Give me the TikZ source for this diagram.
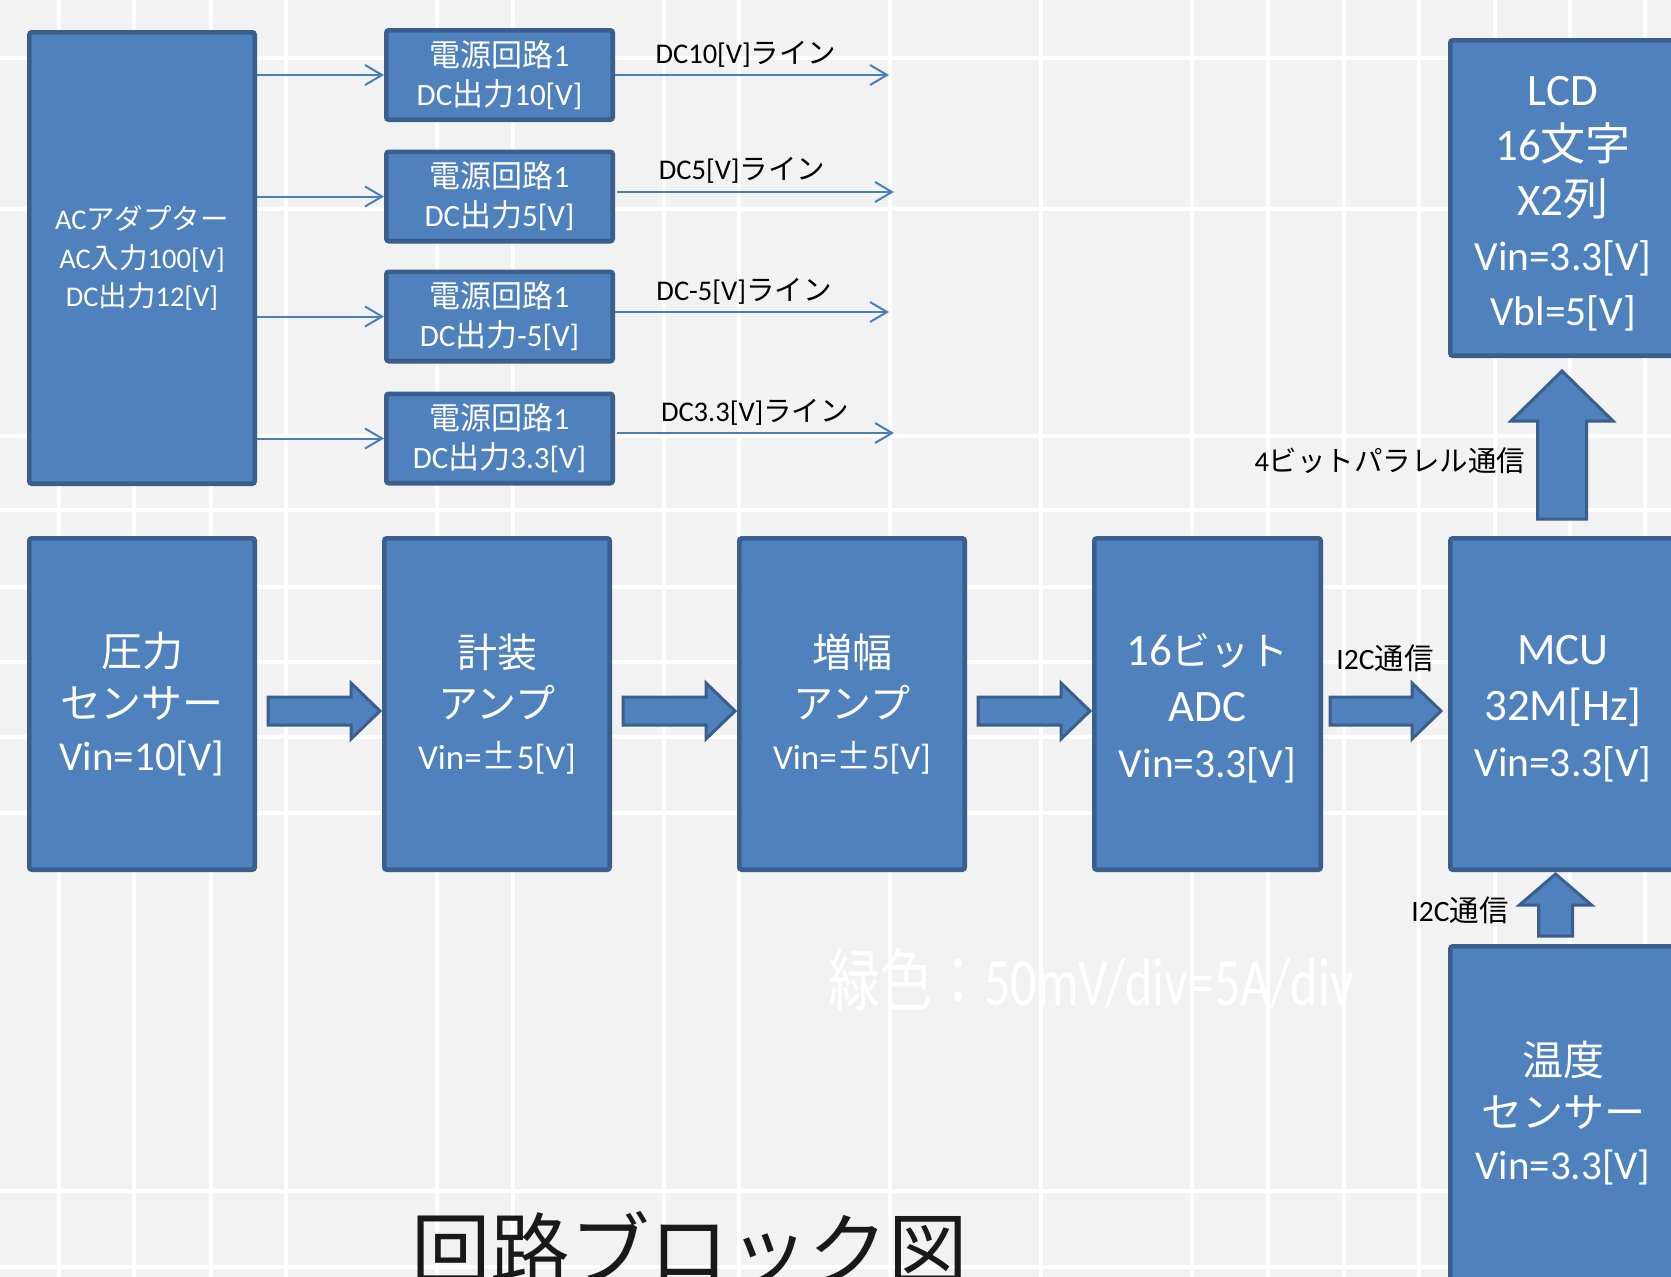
\documentclass[tikz,border=0pt]{standalone}
\usepackage{fontspec}
\setmainfont{Carlito}
\newfontfamily\jp{Noto Sans CJK JP}
\usetikzlibrary{arrows.meta,calc}
\definecolor{bg}{HTML}{F2F2F2}
\definecolor{boxfill}{HTML}{4F81BD}
\definecolor{boxline}{HTML}{3A5F8C}
\definecolor{thinc}{HTML}{4A7EBB}
\newcommand\J[1]{{\jp #1}}
\newcommand\fs[2]{\fontsize{#1}{#2}\selectfont}
% horizontal block arrow: from node, to node, start gap, end gap
\newcommand\harr[4]{%
 \draw[barr] let \p1=(#1.east), \p2=(#2.west) in
  (\x1+#3pt,\y1+7pt) -- (\x2-#4pt-29pt,\y1+7pt) -- (\x2-#4pt-29pt,\y1+21pt) --
  (\x2-#4pt,\y1-7pt) -- (\x2-#4pt-29pt,\y1-35pt) -- (\x2-#4pt-29pt,\y1-21pt) --
  (\x1+#3pt,\y1-21pt) -- cycle;}
% vertical block arrow: lower node, upper node, gap bottom, gap top, shaft half, head half, head length, x offset
\newcommand\varr[8]{%
 \draw[barr] let \p1=(#1.north), \p2=(#2.south) in
  (\x1#8-#5pt,\y1+#3pt) -- (\x1#8-#5pt,\y2-#4pt-#7pt) -- (\x1#8-#6pt,\y2-#4pt-#7pt) --
  (\x1#8,\y2-#4pt) -- (\x1#8+#6pt,\y2-#4pt-#7pt) -- (\x1#8+#5pt,\y2-#4pt-#7pt) --
  (\x1#8+#5pt,\y1+#3pt) -- cycle;}
\begin{document}
\begin{tikzpicture}[x=1pt,y=-1pt,
  gridline/.style={white,line width=3.5pt},
  blk/.style={rectangle,fill=boxfill,draw=boxline,line width=4.6pt,rounded corners=2.5pt,
    text=white,align=center,inner sep=0pt,outer sep=2.3pt},
  boxtext/.style={text=white,align=center,inner sep=0pt},
  thinarr/.style={draw=thinc,line width=2pt,-{Straight Barb[length=17pt,width=20pt]}},
  barr/.style={fill=boxfill,draw=boxline,line width=3pt,line join=miter},
  lbl/.style={text=black,inner sep=0pt,font=\fs{28.5}{34}},
]
\useasboundingbox (0,0) rectangle (1671,1277);
\clip (0,0) rectangle (1671,1277);
\fill[bg] (0,0) rectangle (1671,1277);
% grid
\foreach \gx in {59,134,211,286,437,513,664,739,890,1041,1192,1268,1344,1419,1495,1570,1645}
  \draw[gridline] (\gx,0) -- (\gx,1277);
\foreach \gy in {58,209,436,510,587,662,737,813,1191,1267}
  \draw[gridline] (0,\gy) -- (1671,\gy);

% faint note
\node[inner sep=0pt,text=white] (note) at (1091,980)
  {\scalebox{1}[1.3]{\fs{52}{60}\J{緑色：}50mV/div=5A/div}};

% title
\node[anchor=base west,inner sep=0pt,text=black!90] (title) at (411,1279)
  {\jp\fs{79.5}{90}回路ブロック図};

% power section
\node[blk,minimum width=225.4pt,minimum height=451.4pt,font=\fs{28.5}{38.5}] (ac) at (142,258)
  {AC\J{アダプター}\\AC\J{入力}100[V]\\DC\J{出力}12[V]};
\node[blk,minimum width=226.4pt,minimum height=89.4pt,font=\fs{31}{39}] (p1) at (499.5,75)
  {\J{電源回路}1\\DC\J{出力}10[V]};
\node[blk,minimum width=226.4pt,minimum height=89.4pt,font=\fs{31}{39}] (p2) at (499.5,196.5)
  {\J{電源回路}1\\DC\J{出力}5[V]};
\node[blk,minimum width=226.4pt,minimum height=89.4pt,font=\fs{31}{39}] (p3) at (499.5,316.5)
  {\J{電源回路}1\\DC\J{出力}-5[V]};
\node[blk,minimum width=226.4pt,minimum height=89.4pt,font=\fs{31}{39}] (p4) at (499.5,438.5)
  {\J{電源回路}1\\DC\J{出力}3.3[V]};

\foreach \p in {p1,p2,p3,p4}
  \draw[thinarr] (ac.east |- \p.west) -- (\p.west);

\coordinate (o1) at (889,75);
\coordinate (o2) at (894,192);
\coordinate (o3) at (889,312);
\coordinate (o4) at (894,433);
\draw[thinarr] (p1.east |- o1) -- (o1);
\draw[thinarr] ([xshift=2pt]p2.east |- o2) -- (o2);
\draw[thinarr] (p3.east |- o3) -- (o3);
\draw[thinarr] ([xshift=2pt]p4.east |- o4) -- (o4);

\node[lbl] (l1) at (746,54) {DC10[V]\J{ライン}};
\node[lbl] (l2) at (742,170) {DC5[V]\J{ライン}};
\node[lbl] (l3) at (744,291) {DC-5[V]\J{ライン}};
\node[lbl] (l4) at (755,412) {DC3.3[V]\J{ライン}};

% signal chain
\node[blk,minimum width=225.4pt,minimum height=331.4pt,font=\fs{41}{52}] (sensor) at (142,704)
  {\J{圧力}\\\J{センサー}\\Vin=10[V]};
\node[blk,minimum width=225.4pt,minimum height=331.4pt,font=\fs{40}{51}] (inst) at (497,704)
  {\J{計装}\\\J{アンプ}\\{\fs{35}{51}Vin=\J{±}5[V]}};
\node[blk,minimum width=225.4pt,minimum height=331.4pt,font=\fs{40}{51}] (amp) at (852,704)
  {\J{増幅}\\\J{アンプ}\\{\fs{35}{51}Vin=\J{±}5[V]}};
\node[blk,minimum width=226.4pt,minimum height=331.4pt] (adc) at (1207.5,704) {};
\node[boxtext,font=\fs{41.5}{56}] (adct) at ([yshift=-4pt]adc.center)
  {{\fs{45}{56}16\J{\fs{39}{56}ビット}}\\{\fs{45}{56}ADC}\\Vin=3.3[V]};
\node[blk,minimum width=225.4pt,minimum height=331.4pt] (mcu) at (1563,704) {};
\node[boxtext,font=\fs{41.5}{56}] (mcut) at ([yshift=-5pt]mcu.center)
  {{\fs{45}{56}MCU}\\{\fs{45}{56}32M[Hz]}\\Vin=3.3[V]};
\node[blk,minimum width=225.4pt,minimum height=315.4pt] (lcd) at (1563,198) {};
\node[boxtext,font=\fs{41.5}{55}] (lcdt) at ([yshift=-6pt]lcd.center)
  {{\fs{45}{55}LCD}\\{\fs{45}{55}16\J{文字}}\\{\fs{45}{55}X2\J{列}}\\Vin=3.3[V]\\Vbl=5[V]};
\node[blk,minimum width=225.4pt,minimum height=341.4pt] (temp) at (1563,1117) {};
\node[boxtext,font=\fs{41}{52}] (tempt) at ([yshift=4pt]temp.center)
  {\J{温度}\\\J{センサー}\\Vin=3.3[V]};

\harr{sensor}{inst}{11}{2}
\harr{inst}{amp}{11}{2}
\harr{amp}{adc}{11}{2}
\harr{adc}{mcu}{7}{7}
\varr{mcu}{lcd}{17}{13}{24.5}{51}{50}{-1pt}
\varr{temp}{mcu}{8}{2}{17}{36}{31}{-7.5pt}

\node[lbl] (lpar) at (1390,461) {4\J{ビットパラレル通信}};
\node[lbl,font=\fs{29.5}{34}] (li2c1) at (1385,658) {I2C\J{通信}};
\node[lbl,font=\fs{29.5}{34}] (li2c2) at (1460,910) {I2C\J{通信}};
\end{tikzpicture}
\end{document}
